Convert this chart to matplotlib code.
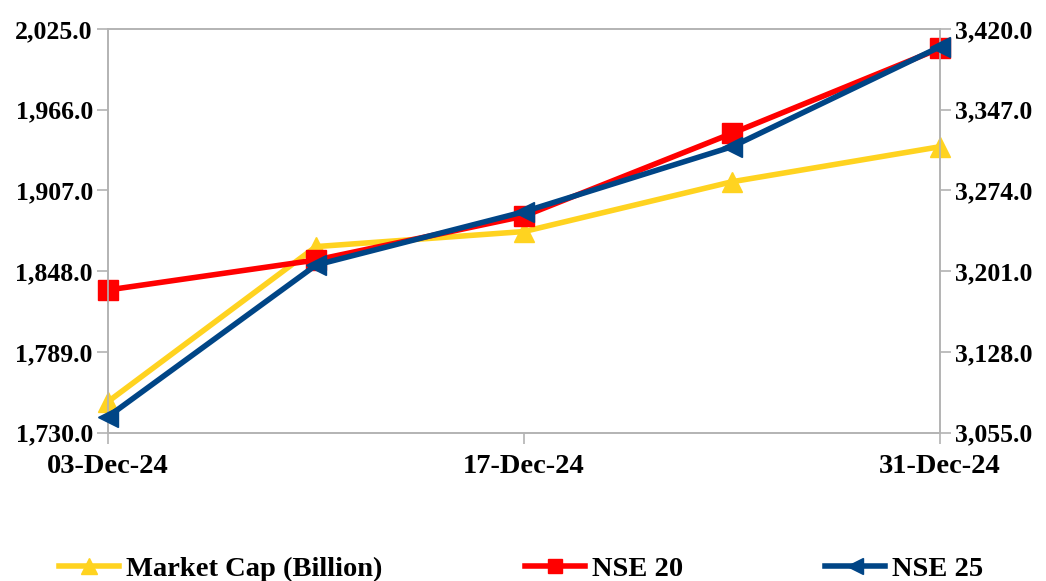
import matplotlib.pyplot as plt
from matplotlib.ticker import FixedLocator, FuncFormatter

dates = ["03-Dec-24", "10-Dec-24", "17-Dec-24", "24-Dec-24", "31-Dec-24"]
market_cap = [1752.7, 1866.0, 1877.0, 1913.4, 1939.0]
nse20 = [1834.3, 1856.2, 1888.3, 1948.8, 2010.9]
nse25 = [3069.5, 3206.6, 3254.8, 3313.6, 3404.0]

left_ticks = [1730, 1789, 1848, 1907, 1966, 2025]
right_ticks = [3055, 3128, 3201, 3274, 3347, 3420]

YELLOW = "#FFD320"
RED = "#FF0000"
BLUE = "#004586"
GREY = "#b3b3b3"

plt.rcParams["font.family"] = ["Liberation Serif", "DejaVu Serif"]
plt.rcParams["font.weight"] = "bold"

fig = plt.figure(figsize=(10.46, 5.81), dpi=100)
ax = fig.add_axes([0.1033, 0.2553, 0.7954, 0.6947])
ax2 = ax.twinx()

x = list(range(len(dates)))
l1, = ax.plot(x, market_cap, color=YELLOW, lw=4, marker="^", ms=15,
              label="Market Cap (Billion)", zorder=3, clip_on=False)
l2, = ax.plot(x, nse20, color=RED, lw=4, marker="s", ms=14,
              label="NSE 20", zorder=4, clip_on=False)
l3, = ax2.plot(x, nse25, color=BLUE, lw=4, marker="<", ms=15,
               label="NSE 25", zorder=5, clip_on=False)

fmt = FuncFormatter(lambda v, _: f"{v:,.1f}")
ax.set_ylim(left_ticks[0], left_ticks[-1])
ax.yaxis.set_major_locator(FixedLocator(left_ticks))
ax.yaxis.set_major_formatter(fmt)
ax2.set_ylim(right_ticks[0], right_ticks[-1])
ax2.yaxis.set_major_locator(FixedLocator(right_ticks))
ax2.yaxis.set_major_formatter(fmt)

ax.set_xlim(0, len(dates) - 1)
ax.set_xticks([0, 2, 4])
ax.set_xticklabels([dates[0], dates[2], dates[4]])

for a in (ax, ax2):
    for s in a.spines.values():
        s.set_color(GREY)
        s.set_linewidth(1.2)
    a.tick_params(axis="both", color=GREY, length=8, width=1.2,
                  labelsize=18.5, pad=3)
    for lbl in a.get_xticklabels() + a.get_yticklabels():
        lbl.set_fontweight("bold")
ax.tick_params(axis="x", labelsize=20.5, pad=7)

ax2.set_zorder(ax.get_zorder() + 1)
ax2.patch.set_visible(False)

fig.legend(handles=[l1, l2, l3], loc="lower left", ncol=3,
           bbox_to_anchor=(0.032, -0.045), frameon=False,
           prop={"size": 20.5, "weight": "bold"},
           handlelength=2.1, handletextpad=0.25, columnspacing=5.0,
           markerscale=0.75)

fig.savefig("out.png", dpi=100)
